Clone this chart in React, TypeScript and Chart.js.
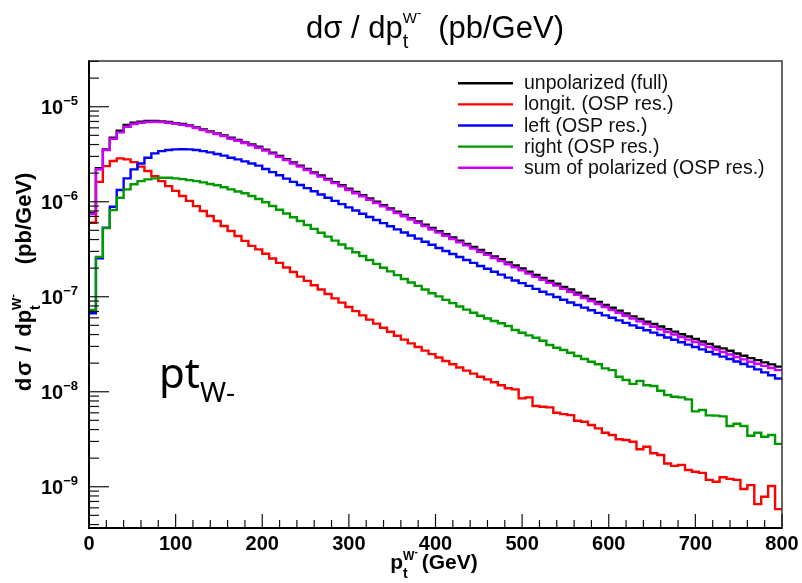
import React, { useEffect, useRef } from "react";
import { Chart, registerables } from "chart.js";

Chart.register(...registerables);

// ---------------- data ----------------
const BIN_WIDTH_GEV = 8;
const X_MIN = 0;
const X_MAX = 800;
const Y_MIN = 3.77e-10;
const Y_MAX = 3.03e-5;

const X_TICK_VALUES = [0, 100, 200, 300, 400, 500, 600, 700, 800];
const X_TICK_LABELS = ["0", "100", "200", "300", "400", "500", "600", "700", "800"];
const Y_DECADE_EXPONENTS = [-9, -8, -7, -6, -5];

const SERIES_LABELS = [
  "unpolarized (full)",
  "longit. (OSP res.)",
  "left (OSP res.)",
  "right (OSP res.)",
  "sum of polarized (OSP res.)",
];
const SERIES_COLORS = ["#000000", "#ff0000", "#0000ff", "#009a00", "#cc00ff"];

const unpolarized = [
  7.6e-7, 2.25e-6, 3.56e-6, 4.72e-6, 5.59e-6, 6.42e-6, 6.79e-6, 6.96e-6, 7.07e-6, 7.07e-6,
  7.02e-6, 6.9e-6, 6.73e-6, 6.57e-6, 6.36e-6, 6.06e-6, 5.77e-6, 5.5e-6, 5.24e-6, 4.99e-6,
  4.72e-6, 4.46e-6, 4.21e-6, 4.01e-6, 3.8e-6, 3.54e-6, 3.29e-6, 3.04e-6, 2.81e-6, 2.59e-6,
  2.4e-6, 2.22e-6, 2.04e-6, 1.89e-6, 1.74e-6, 1.61e-6, 1.49e-6, 1.37e-6, 1.27e-6, 1.17e-6,
  1.08e-6, 9.98e-7, 9.22e-7, 8.52e-7, 7.86e-7, 7.28e-7, 6.71e-7, 6.21e-7, 5.73e-7, 5.29e-7,
  4.9e-7, 4.54e-7, 4.2e-7, 3.89e-7, 3.6e-7, 3.34e-7, 3.1e-7, 2.87e-7, 2.66e-7, 2.48e-7,
  2.3e-7, 2.13e-7, 1.98e-7, 1.83e-7, 1.7e-7, 1.58e-7, 1.47e-7, 1.37e-7, 1.27e-7, 1.19e-7,
  1.1e-7, 1.02e-7, 9.48e-8, 8.82e-8, 8.2e-8, 7.65e-8, 7.15e-8, 6.66e-8, 6.22e-8, 5.83e-8,
  5.46e-8, 5.17e-8, 4.86e-8, 4.56e-8, 4.29e-8, 4.03e-8, 3.82e-8, 3.59e-8, 3.38e-8, 3.19e-8,
  2.98e-8, 2.86e-8, 2.7e-8, 2.53e-8, 2.39e-8, 2.26e-8, 2.15e-8, 2.04e-8, 1.94e-8, 1.84e-8,
];

const longitudinal = [
  6.0e-7, 1.62e-6, 2.37e-6, 2.68e-6, 2.86e-6, 2.79e-6, 2.61e-6, 2.34e-6, 2.11e-6, 1.86e-6,
  1.65e-6, 1.46e-6, 1.3e-6, 1.15e-6, 1.02e-6, 9.0e-7, 8.0e-7, 7.08e-7, 6.28e-7, 5.55e-7,
  4.92e-7, 4.36e-7, 3.87e-7, 3.43e-7, 3.15e-7, 2.83e-7, 2.53e-7, 2.27e-7, 2.03e-7, 1.82e-7,
  1.63e-7, 1.47e-7, 1.32e-7, 1.19e-7, 1.07e-7, 9.62e-8, 8.67e-8, 7.81e-8, 7.05e-8, 6.37e-8,
  5.75e-8, 5.21e-8, 4.72e-8, 4.28e-8, 3.89e-8, 3.54e-8, 3.23e-8, 2.96e-8, 2.71e-8, 2.49e-8,
  2.29e-8, 2.11e-8, 1.95e-8, 1.8e-8, 1.67e-8, 1.55e-8, 1.44e-8, 1.35e-8, 1.26e-8, 1.17e-8,
  1.09e-8, 1.06e-8, 8.52e-9, 8.73e-9, 7.07e-9, 6.95e-9, 6.85e-9, 6.01e-9, 5.82e-9, 5.68e-9,
  4.95e-9, 4.83e-9, 4.46e-9, 4.12e-9, 3.7e-9, 3.5e-9, 3.16e-9, 3.1e-9, 2.98e-9, 2.48e-9,
  2.64e-9, 2.25e-9, 2.16e-9, 1.76e-9, 1.66e-9, 1.7e-9, 1.5e-9, 1.44e-9, 1.4e-9, 1.18e-9,
  1.13e-9, 1.26e-9, 1.21e-9, 1.18e-9, 9.46e-10, 1.04e-9, 6.57e-10, 7.85e-10, 1.02e-9, 5.82e-10,
];

const leftPol = [
  6.7e-8, 2.54e-7, 5.33e-7, 8.87e-7, 1.33e-6, 1.76e-6, 2.19e-6, 2.53e-6, 2.9e-6, 3.23e-6,
  3.41e-6, 3.5e-6, 3.56e-6, 3.57e-6, 3.56e-6, 3.5e-6, 3.41e-6, 3.31e-6, 3.18e-6, 3.06e-6,
  2.9e-6, 2.79e-6, 2.66e-6, 2.53e-6, 2.4e-6, 2.21e-6, 2.05e-6, 1.9e-6, 1.75e-6, 1.62e-6,
  1.5e-6, 1.39e-6, 1.29e-6, 1.19e-6, 1.1e-6, 1.02e-6, 9.44e-7, 8.73e-7, 8.08e-7, 7.48e-7,
  6.92e-7, 6.42e-7, 5.95e-7, 5.52e-7, 5.12e-7, 4.75e-7, 4.41e-7, 4.09e-7, 3.79e-7, 3.52e-7,
  3.26e-7, 3.03e-7, 2.82e-7, 2.62e-7, 2.44e-7, 2.27e-7, 2.11e-7, 1.97e-7, 1.83e-7, 1.71e-7,
  1.59e-7, 1.48e-7, 1.39e-7, 1.3e-7, 1.21e-7, 1.13e-7, 1.06e-7, 9.93e-8, 9.3e-8, 8.71e-8,
  8.18e-8, 7.68e-8, 7.21e-8, 6.77e-8, 6.37e-8, 6.0e-8, 5.64e-8, 5.31e-8, 5.0e-8, 4.71e-8,
  4.44e-8, 4.19e-8, 3.95e-8, 3.73e-8, 3.52e-8, 3.32e-8, 3.13e-8, 2.96e-8, 2.79e-8, 2.63e-8,
  2.48e-8, 2.34e-8, 2.21e-8, 2.08e-8, 1.96e-8, 1.84e-8, 1.72e-8, 1.6e-8, 1.49e-8, 1.38e-8,
];

const rightPol = [
  7.25e-8, 2.63e-7, 5.27e-7, 8.17e-7, 1.1e-6, 1.35e-6, 1.53e-6, 1.65e-6, 1.72e-6, 1.76e-6,
  1.79e-6, 1.79e-6, 1.76e-6, 1.73e-6, 1.69e-6, 1.65e-6, 1.6e-6, 1.54e-6, 1.49e-6, 1.42e-6,
  1.35e-6, 1.28e-6, 1.23e-6, 1.15e-6, 1.07e-6, 9.86e-7, 9.01e-7, 8.24e-7, 7.53e-7, 6.87e-7,
  6.26e-7, 5.7e-7, 5.18e-7, 4.72e-7, 4.29e-7, 3.9e-7, 3.55e-7, 3.23e-7, 2.94e-7, 2.68e-7,
  2.44e-7, 2.22e-7, 2.02e-7, 1.85e-7, 1.69e-7, 1.54e-7, 1.41e-7, 1.3e-7, 1.19e-7, 1.09e-7,
  1.01e-7, 9.28e-8, 8.56e-8, 7.9e-8, 7.31e-8, 6.78e-8, 6.31e-8, 5.9e-8, 5.55e-8, 5.26e-8,
  4.92e-8, 4.46e-8, 4.18e-8, 3.92e-8, 3.7e-8, 3.44e-8, 3.1e-8, 2.91e-8, 2.75e-8, 2.57e-8,
  2.38e-8, 2.21e-8, 2.07e-8, 1.95e-8, 1.76e-8, 1.69e-8, 1.44e-8, 1.33e-8, 1.21e-8, 1.3e-8,
  1.17e-8, 1.15e-8, 1.025e-8, 9.23e-9, 8.86e-9, 8.73e-9, 8.32e-9, 6.22e-9, 6.42e-9, 5.64e-9,
  5.6e-9, 5.5e-9, 4.36e-9, 4.6e-9, 4.36e-9, 3.44e-9, 3.7e-9, 3.36e-9, 3.5e-9, 2.83e-9,
];

const sumPolarized = [
  7.4e-7, 2.2e-6, 3.5e-6, 4.61e-6, 5.37e-6, 6.16e-6, 6.57e-6, 6.79e-6, 6.9e-6, 6.96e-6,
  6.9e-6, 6.79e-6, 6.62e-6, 6.47e-6, 6.26e-6, 5.96e-6, 5.68e-6, 5.41e-6, 5.16e-6, 4.91e-6,
  4.61e-6, 4.39e-6, 4.15e-6, 3.92e-6, 3.7e-6, 3.45e-6, 3.21e-6, 2.97e-6, 2.74e-6, 2.53e-6,
  2.34e-6, 2.16e-6, 1.99e-6, 1.84e-6, 1.7e-6, 1.57e-6, 1.45e-6, 1.33e-6, 1.23e-6, 1.14e-6,
  1.05e-6, 9.69e-7, 8.94e-7, 8.26e-7, 7.62e-7, 7.04e-7, 6.5e-7, 6.0e-7, 5.54e-7, 5.11e-7,
  4.73e-7, 4.38e-7, 4.05e-7, 3.75e-7, 3.47e-7, 3.21e-7, 2.98e-7, 2.76e-7, 2.56e-7, 2.38e-7,
  2.2e-7, 2.04e-7, 1.9e-7, 1.75e-7, 1.62e-7, 1.51e-7, 1.4e-7, 1.31e-7, 1.21e-7, 1.13e-7,
  1.05e-7, 9.71e-8, 9.01e-8, 8.38e-8, 7.79e-8, 7.26e-8, 6.77e-8, 6.31e-8, 5.89e-8, 5.51e-8,
  5.16e-8, 4.83e-8, 4.54e-8, 4.25e-8, 4.0e-8, 3.76e-8, 3.54e-8, 3.34e-8, 3.14e-8, 2.96e-8,
  2.78e-8, 2.62e-8, 2.47e-8, 2.32e-8, 2.19e-8, 2.07e-8, 1.97e-8, 1.87e-8, 1.78e-8, 1.69e-8,
];

const SERIES = [unpolarized, longitudinal, leftPol, rightPol, sumPolarized];
// drawing order: black underneath, violet on top
const SERIES_ORDER = [5, 4, 3, 2, 1];

// ---------------- text helpers ----------------
const SANS = '"Liberation Sans", Arial, Helvetica, sans-serif';
const NOTO = '"Noto Sans", "Open Sans", sans-serif';

type Part = {
  text: string;
  size: number;
  bold?: boolean;
  dy?: number;
  keepX?: boolean;
  gap?: number;
  family?: string;
};

function partFont(p: Part) {
  return `${p.bold ? "bold " : ""}${p.size}px ${p.family || SANS}`;
}

function layoutRich(ctx: CanvasRenderingContext2D, parts: Part[], sx: number) {
  let x = 0;
  let stackW = 0;
  const pos: number[] = [];
  for (const p of parts) {
    ctx.font = partFont(p);
    const w = ctx.measureText(p.text).width * sx;
    pos.push(x);
    if (p.keepX) {
      stackW = Math.max(stackW, w);
    } else {
      x += Math.max(w, stackW) + (p.gap || 0);
      stackW = 0;
    }
  }
  return { pos, width: Math.max(x, stackW) };
}

function drawRich(
  ctx: CanvasRenderingContext2D,
  parts: Part[],
  x0: number,
  y0: number,
  align: "left" | "center" | "right",
  sx = 1,
  color = "#000"
) {
  const { pos, width } = layoutRich(ctx, parts, sx);
  let start = x0;
  if (align === "center") start = x0 - width / 2;
  if (align === "right") start = x0 - width;
  ctx.fillStyle = color;
  ctx.textAlign = "left";
  ctx.textBaseline = "alphabetic";
  parts.forEach((p, i) => {
    ctx.save();
    ctx.font = partFont(p);
    ctx.translate(start + pos[i], y0 + (p.dy || 0));
    ctx.scale(sx, 1);
    ctx.fillText(p.text, 0, 0);
    ctx.restore();
  });
}

// ---------------- decoration plugin (ROOT-like frame) ----------------
const rootDecor = {
  id: "rootDecor",
  afterDraw(chart: any) {
    const ctx: CanvasRenderingContext2D = chart.ctx;
    const { left, right, top, bottom } = chart.chartArea;
    const xs = chart.scales.x;
    const ys = chart.scales.y;
    ctx.save();

    // frame (top / right)
    ctx.strokeStyle = "#333";
    ctx.lineWidth = 1.5;
    ctx.beginPath();
    ctx.moveTo(left, top);
    ctx.lineTo(right, top);
    ctx.lineTo(right, bottom);
    ctx.stroke();

    // axes
    ctx.strokeStyle = "#000";
    ctx.lineWidth = 2;
    ctx.beginPath();
    ctx.moveTo(left, top - 0.75);
    ctx.lineTo(left, bottom + 1);
    ctx.lineTo(right + 0.75, bottom + 1);
    ctx.stroke();

    // x ticks (inside)
    ctx.lineWidth = 1.2;
    ctx.strokeStyle = "#111";
    for (let v = X_MIN; v <= X_MAX; v += 20) {
      const px = xs.getPixelForValue(v);
      const len = v % 100 === 0 ? 13 : 7;
      ctx.beginPath();
      ctx.moveTo(px, bottom);
      ctx.lineTo(px, bottom - len);
      ctx.stroke();
    }
    // y ticks (inside)
    for (let e = -10; e <= -5; e++) {
      for (let m = 1; m <= 9; m++) {
        const v = m * Math.pow(10, e);
        if (v < Y_MIN || v > Y_MAX) continue;
        const py = ys.getPixelForValue(v);
        const len = m === 1 ? 20 : 10;
        ctx.beginPath();
        ctx.moveTo(left, py);
        ctx.lineTo(left + len, py);
        ctx.stroke();
      }
    }

    // x tick labels
    X_TICK_VALUES.forEach((v, i) => {
      const px = xs.getPixelForValue(v);
      drawRich(ctx, [{ text: X_TICK_LABELS[i], size: 20, bold: true }], px, 550, "center");
    });

    // y tick labels 10^e
    Y_DECADE_EXPONENTS.forEach((e) => {
      const py = ys.getPixelForValue(Math.pow(10, e));
      drawRich(
        ctx,
        [
          { text: "10", size: 20, bold: true },
          { text: "\u2212" + String(-e), size: 13, bold: true, dy: -9 },
        ],
        78,
        py + 7,
        "right"
      );
    });

    // x-axis title
    drawRich(
      ctx,
      [
        { text: "p", size: 21, bold: true },
        { text: "t", size: 14, bold: true, dy: 9, keepX: true },
        { text: "W", size: 12, bold: true, dy: -9 },
        { text: "-", size: 10, bold: true, dy: -14, gap: 4 },
        { text: "(GeV)", size: 21, bold: true },
      ],
      434,
      569,
      "center"
    );

    // y-axis title (rotated)
    ctx.save();
    ctx.translate(31, 282);
    ctx.rotate(-Math.PI / 2);
    drawRich(
      ctx,
      [
        { text: "d", size: 22, bold: true, gap: 2 },
        { text: "\u03c3", size: 22, bold: true, gap: 9 },
        { text: "/", size: 22, bold: true, gap: 9 },
        { text: "dp", size: 22, bold: true },
        { text: "t", size: 14, bold: true, dy: 9, keepX: true },
        { text: "W", size: 13, bold: true, dy: -10 },
        { text: "-", size: 10, bold: true, dy: -15, gap: 30 },
        { text: "(pb/GeV)", size: 22, bold: true },
      ],
      0,
      0,
      "center"
    );
    ctx.restore();

    // main title
    drawRich(
      ctx,
      [
        { text: "d\u03c3 / dp", size: 31 },
        { text: "t", size: 20, dy: 10, keepX: true },
        { text: "W", size: 15, dy: -15 },
        { text: "-", size: 13, dy: -21, gap: 17 },
        { text: "(pb/GeV)", size: 31 },
      ],
      435,
      38,
      "center"
    );

    // legend
    const legX0 = 458;
    const legX1 = 513;
    const legTextX = 524;
    SERIES_LABELS.forEach((lab, i) => {
      const ry = 83.3 + i * 21.1;
      ctx.strokeStyle = SERIES_COLORS[i];
      ctx.lineWidth = 2.4;
      ctx.beginPath();
      ctx.moveTo(legX0, ry);
      ctx.lineTo(legX1, ry);
      ctx.stroke();
      drawRich(ctx, [{ text: lab, size: 19.5 }], legTextX, ry + 6, "left", 1, "#111");
    });

    // in-plot label
    drawRich(
      ctx,
      [
        { text: "pt", size: 42, family: NOTO },
        { text: "W-", size: 28, dy: 14, family: NOTO },
      ],
      159,
      388,
      "left"
    );

    ctx.restore();
  },
};

export default function App() {
  const canvasRef = useRef<HTMLCanvasElement | null>(null);

  useEffect(() => {
    const canvas = canvasRef.current;
    if (!canvas) return;

    const datasets = SERIES.map((vals, s) => {
      const pts = vals.map((v, i) => ({ x: i * BIN_WIDTH_GEV, y: v }));
      pts.push({ x: vals.length * BIN_WIDTH_GEV, y: vals[vals.length - 1] });
      return {
        label: SERIES_LABELS[s],
        data: pts,
        borderColor: SERIES_COLORS[s],
        backgroundColor: SERIES_COLORS[s],
        borderWidth: 2.4,
        pointRadius: 0,
        stepped: "before" as const,
        fill: false,
        tension: 0,
        borderJoinStyle: "miter" as const,
        borderCapStyle: "butt" as const,
        order: SERIES_ORDER[s],
      };
    });

    const chart = new Chart(canvas, {
      type: "line",
      data: { datasets },
      options: {
        responsive: false,
        animation: false,
        devicePixelRatio: 1,
        layout: { padding: { left: 89, right: 20, top: 61, bottom: 56 } },
        scales: {
          x: { type: "linear", min: X_MIN, max: X_MAX, display: false, bounds: "data" },
          y: { type: "logarithmic", min: Y_MIN, max: Y_MAX, display: false, bounds: "data" },
        },
        plugins: {
          legend: { display: false },
          tooltip: { enabled: false },
          title: { display: false },
        },
        events: [],
      },
      plugins: [rootDecor],
    } as any);

    return () => chart.destroy();
  }, []);

  return (
    <div style={{ position: "absolute", left: 0, top: 0, width: 802, height: 583, background: "#fff" }}>
      <canvas ref={canvasRef} width={802} height={583} style={{ display: "block", width: 802, height: 583 }} />
    </div>
  );
}
